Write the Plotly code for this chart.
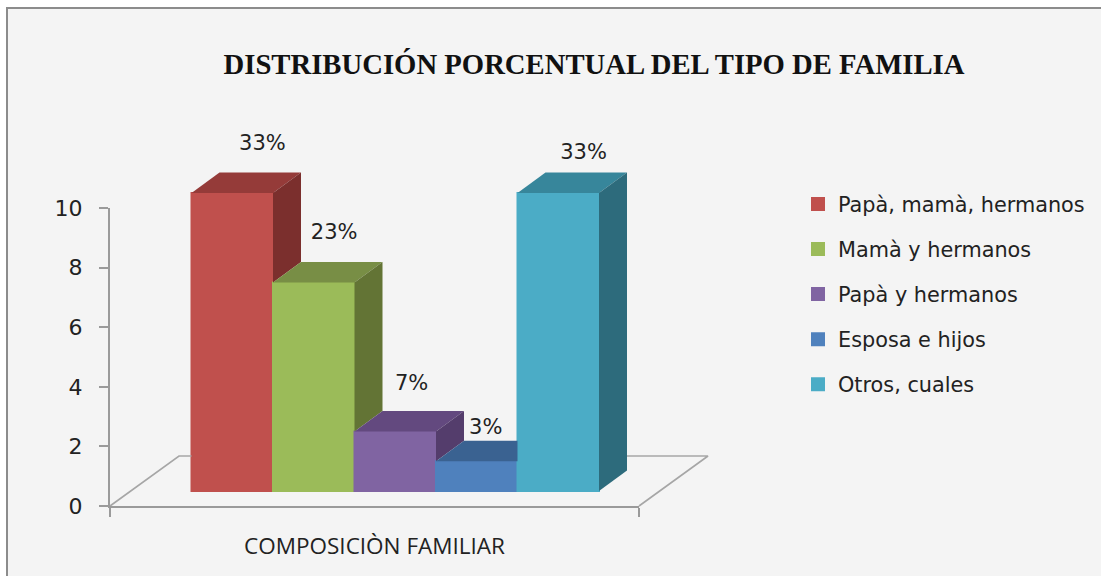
import plotly.graph_objects as go

categories = ["Papà, mamà, hermanos", "Mamà y hermanos", "Papà y hermanos", "Esposa e hijos", "Otros, cuales"]
values = [10, 7, 2, 1, 10]
percent_labels = ["33%", "23%", "7%", "3%", "33%"]
y_ticks = [0, 2, 4, 6, 8, 10]
axis_title = "COMPOSICIÒN FAMILIAR"
chart_title = "DISTRIBUCIÓN PORCENTUAL DEL TIPO DE FAMILIA"

front = ["#c0504d", "#9bbb59", "#8064a2", "#4f81bd", "#4bacc6"]
top = ["#953b39", "#788e45", "#63497f", "#3a6291", "#37869b"]
side = ["#7b2f2d", "#637435", "#543d6c", "#2f5078", "#2d6b7c"]

W, H = 1101, 576
PX_X, PX_Y = 81.5, 29.8          # pixels per category, pixels per value
X0, Y0 = 232.25, 506             # pixel of category 0, pixel of value 0
BASE = 0.5                       # bars stand on the floor, above the axis zero
DX, DY = 28 / PX_X, 20.5 / PX_Y  # depth of a bar
FLOOR_DX, FLOOR_DY = 69 / PX_X, 50 / PX_Y
GRAY = "#9a9a9a"
BG = "#f4f4f4"
# label offset from the bar's centre and top
LABEL_DX = [0.37, 0.25, 0.2, 0.11, 0.31]
LABEL_DY = [2.13, 2.13, 2.06, 1.58, 1.81]

full_x = [-X0 / PX_X, (W - X0) / PX_X]
full_y = [(Y0 - H) / PX_Y, Y0 / PX_Y]

fig = go.Figure()

for i, (c, v) in enumerate(zip(categories, values)):
    fig.add_trace(go.Bar(x=[i], y=[v], base=BASE, width=1, name=c, legendgroup=c,
                         marker=dict(color=front[i], line=dict(width=2, color=front[i]))))

for i, v in enumerate(values):
    nxt = values[i + 1] if i + 1 < len(values) else 0
    l, r, t = i - 0.5, i + 0.5, BASE + v
    if nxt > v:  # the taller neighbour hides the right end of the top face
        xs = [l, l + DX, r, r, l]
        ys = [t, t + DY, t + DY, t, t]
    else:
        xs = [l, l + DX, r + DX, r, l]
        ys = [t, t + DY, t + DY, t, t]
    fig.add_trace(go.Scatter(x=xs, y=ys, mode="lines", fill="toself", fillcolor=top[i],
                             line=dict(width=0), showlegend=False, hoverinfo="skip"))
    if nxt < v:
        low = BASE + nxt
        fig.add_trace(go.Scatter(x=[r, r + DX, r + DX, r, r], y=[t, t + DY, low + DY, low, t],
                                 mode="lines", fill="toself", fillcolor=side[i],
                                 line=dict(width=0), showlegend=False, hoverinfo="skip"))

# floor outline, only where the bars do not hide it
n = len(values)
left_x = (110 - X0) / PX_X
right_x = (639 - X0) / PX_X
fig.add_trace(go.Scatter(
    x=[left_x, left_x + FLOOR_DX, -0.5, None, n - 0.5 + DX, right_x + FLOOR_DX, right_x],
    y=[0, FLOOR_DY, FLOOR_DY, None, FLOOR_DY, FLOOR_DY, 0],
    mode="lines", line=dict(color="#a6a6a6", width=1.6), showlegend=False, hoverinfo="skip"))

# percentage labels
fig.add_trace(go.Scatter(
    x=[i + d for i, d in enumerate(LABEL_DX)],
    y=[v + d for v, d in zip(values, LABEL_DY)],
    mode="text", text=percent_labels, textposition="middle center",
    textfont=dict(family="DejaVu Sans", size=21, color="#222222"),
    showlegend=False, hoverinfo="skip"))

# carrier of the visible axes
fig.add_trace(go.Scatter(x=[0], y=[0], xaxis="x2", yaxis="y2", mode="markers",
                         marker=dict(opacity=0), showlegend=False, hoverinfo="skip"))

fig.update_layout(
    width=W, height=H, autosize=False,
    margin=dict(l=0, r=0, t=0, b=0, autoexpand=False),
    paper_bgcolor="white", plot_bgcolor="rgba(0,0,0,0)",
    barmode="overlay", showlegend=True,
    title=dict(text=chart_title, x=594 / W, y=1 - 64 / H, xanchor="center", yanchor="middle",
               font=dict(family="Liberation Serif", size=28.7, color="#111111", weight=700)),
    legend=dict(x=798 / W, y=1 - 184 / H, xanchor="left", yanchor="top",
                bgcolor="rgba(0,0,0,0)", tracegroupgap=15, itemwidth=30,
                font=dict(family="DejaVu Sans", size=20.8, color="#222222")),
    xaxis=dict(domain=[0, 1], range=full_x, visible=False, fixedrange=True, automargin=False),
    yaxis=dict(domain=[0, 1], range=full_y, visible=False, fixedrange=True, automargin=False),
    xaxis2=dict(domain=[110 / W, 639 / W], range=[0, 1], anchor="y2", tickvals=[0, 1], ticktext=["", ""],
                ticks="outside", ticklen=9, tickwidth=2, tickcolor=GRAY, automargin=False,
                showline=True, linecolor=GRAY, linewidth=2, showgrid=False, zeroline=False,
                title=dict(text=axis_title, standoff=20,
                           font=dict(family="Open Sans", size=22.5, color="#222222"))),
    yaxis2=dict(domain=[1 - Y0 / H, 1 - (Y0 - 10 * PX_Y) / H], range=[0, 10], anchor="x2",
                tickvals=y_ticks, ticks="outside", ticklen=9, tickwidth=2, tickcolor=GRAY,
                automargin=False, ticklabelstandoff=12,
                showline=True, linecolor=GRAY, linewidth=2, showgrid=False, zeroline=False,
                tickfont=dict(family="DejaVu Sans", size=22, color="#222222")),
    shapes=[dict(type="rect", xref="paper", yref="paper", layer="below",
                 x0=7 / W, x1=1.01, y0=-0.01, y1=1 - 8 / H,
                 fillcolor=BG, line=dict(color="#8c8c8c", width=2))],
)

fig.write_html("out.html", config=dict(displayModeBar=False),
               post_script="document.body.style.margin='0';")
